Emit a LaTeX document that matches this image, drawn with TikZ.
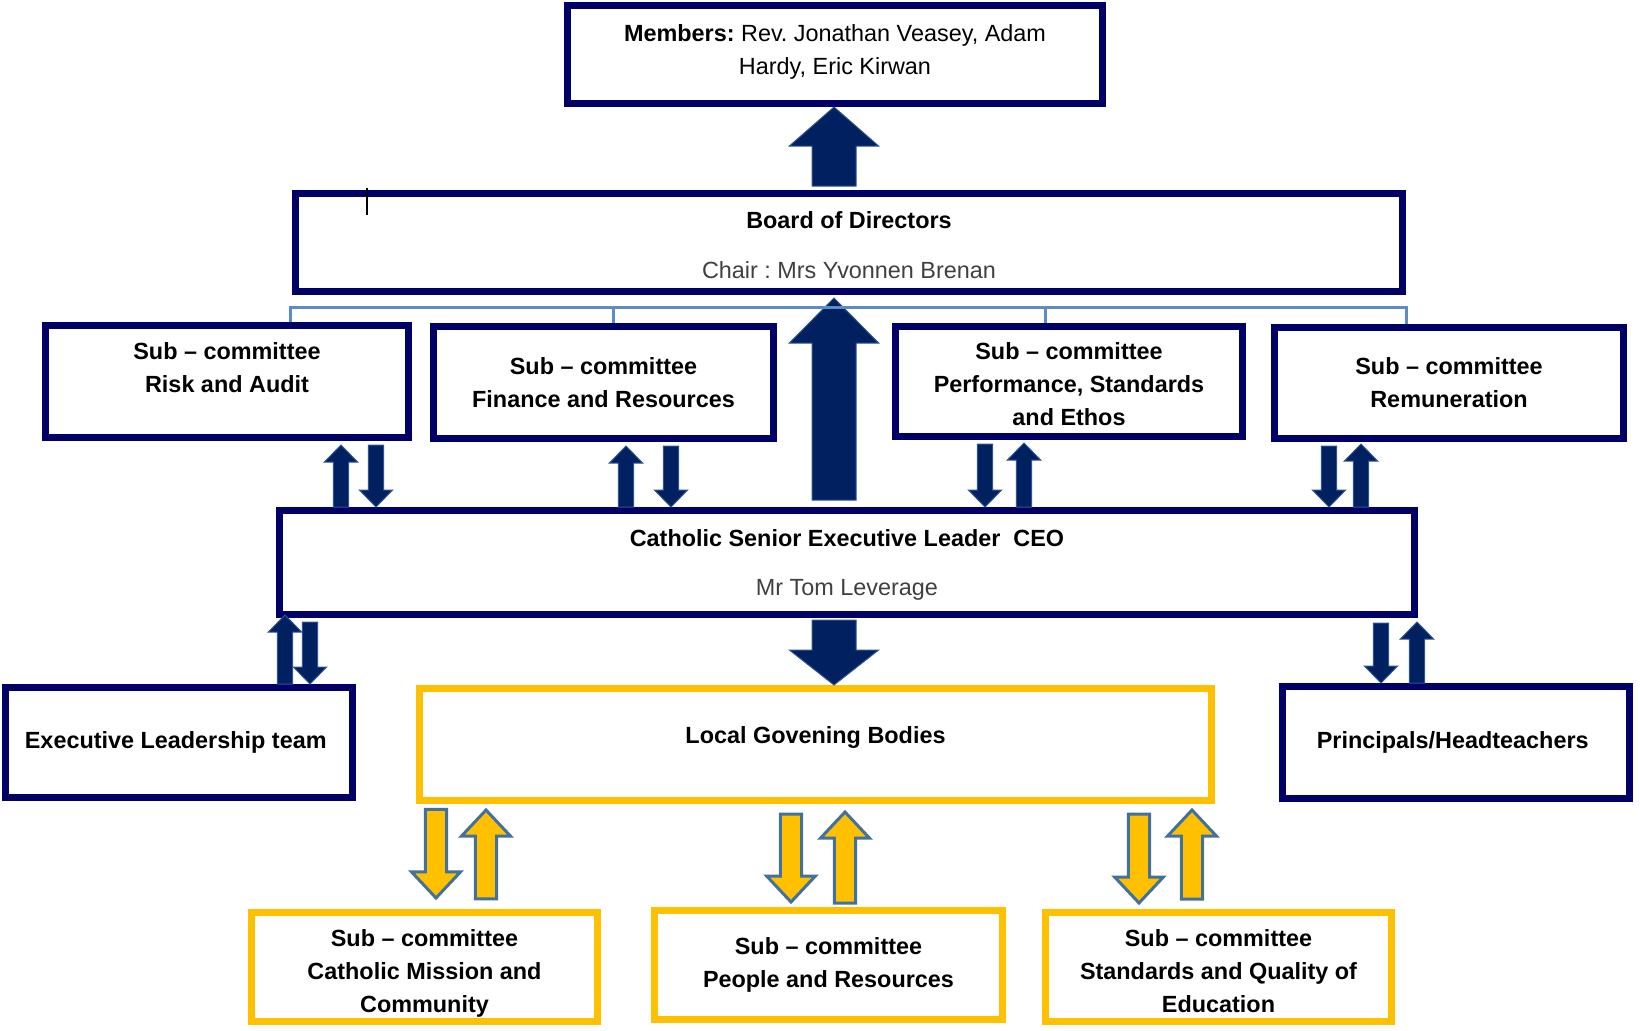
\documentclass[tikz,border=0pt]{standalone}
\usepackage{fontspec}
\setmainfont{Liberation Sans}
\usepackage{tikz}
\usetikzlibrary{calc,positioning,arrows.meta}
\usepackage{xcolor}

\definecolor{boxNavy}{RGB}{0, 0, 102}
\definecolor{arrowNavy}{RGB}{0, 32, 96}
\definecolor{arrowEdge}{RGB}{47, 85, 151}
\definecolor{goldFill}{RGB}{255, 192, 0}
\definecolor{goldEdge}{RGB}{65, 113, 156}
\definecolor{railBlue}{RGB}{91, 140, 200}
\definecolor{chairGrey}{RGB}{64, 64, 64}

\newcommand{\orgfont}{\frenchspacing\fontsize{11.7}{16.5}\selectfont}

\tikzset{
    navybox/.style={draw=boxNavy, line width=3.5pt, fill=white, align=center,
                    inner sep=2pt, font=\orgfont\bfseries},
    goldbox/.style={navybox, draw=goldFill},
    % block arrow: shaft half width, head half width, head length
    blockarrow/.style n args={3}{to path={
        let \p1=(\tikztostart), \p2=(\tikztotarget),
            \n1={ifthenelse(\y2>\y1,1,-1)}
        in (\x1-#1,\y1) -- (\x1-#1,\y2-\n1*#3) -- (\x1-#2,\y2-\n1*#3) -- (\x1,\y2)
           -- (\x1+#2,\y2-\n1*#3) -- (\x1+#1,\y2-\n1*#3) -- (\x1+#1,\y1) -- cycle}},
    navyarrow/.style={fill=arrowNavy, draw=arrowEdge, line width=0.5pt},
    linkarrow/.style={navyarrow, blockarrow={3.8pt}{8.3pt}{8.5pt}},
    goldarrow/.style={fill=goldFill, draw=goldEdge, line width=1.5pt,
                      blockarrow={5.3pt}{12.2pt}{13pt}},
    rail/.style={draw=railBlue, line width=1.5pt}
}

\begin{document}
\begin{tikzpicture}[x=0.5pt,y=-0.5pt]
    \useasboundingbox (0,0) rectangle (1640,1030);

    % members and board
    \node[navybox, font=\orgfont, minimum width=267.5pt, minimum height=49pt] (members) at (835,54.5) {
        \textbf{Members:} Rev. Jonathan Veasey, Adam\\
        Hardy, Eric Kirwan\\[-12pt]\mbox{}
    };
    \node[navybox, minimum width=553.5pt, minimum height=49pt] (board) at (849,242.5) {
        \mbox{}\\[-4.9pt]
        Board of Directors\\[8.5pt]
        {\mdseries\color{chairGrey}Chair : Mrs Yvonnen Brenan}
    };

    % sub-committees of the board
    \node[navybox, minimum width=181.5pt, minimum height=56pt] (risk) at (227,381.5) {
        Sub – committee\\Risk and Audit\\[-3pt]\mbox{}
    };
    \node[navybox, minimum width=170pt, minimum height=56pt] (finance) at (603.5,382.5) {
        Sub – committee\\Finance and Resources
    };
    \node[navybox, minimum width=173.5pt, minimum height=55pt] (perf) at (1069,381.5) {
        \mbox{}\\[-4.9pt]
        Sub – committee\\Performance, Standards\\and Ethos
    };
    \node[navybox, minimum width=174.5pt, minimum height=55.5pt] (remun) at (1449,383) {
        Sub – committee\\Remuneration
    };

    % chief executive
    \node[navybox, minimum width=567.5pt, minimum height=52pt] (ceo) at (847,562.5) {
        \mbox{}\\[-5.9pt]
        Catholic Senior Executive Leader\ \ CEO\\[8pt]
        {\mdseries\color{chairGrey}Mr Tom Leverage}
    };

    % third row
    \node[navybox, minimum width=173.5pt, minimum height=55pt] (exec) at (179,742.5) {
        Executive Leadership team
    };
    \node[goldbox, minimum width=396pt, minimum height=56pt] (lgb) at (815.5,744.5) {
        Local Govening Bodies\\[-7.5pt]\mbox{}
    };
    \node[navybox, minimum width=173.5pt, minimum height=56pt] (heads) at (1456,742.5) {
        Principals/Headteachers
    };

    % local sub-committees
    \node[goldbox, minimum width=173pt, minimum height=54.5pt] (mission) at (424.5,967) {
        \mbox{}\\[-1.4pt]
        Sub – committee\\Catholic Mission and\\Community
    };
    \node[goldbox, minimum width=174pt, minimum height=54.5pt] (people) at (828.5,965) {
        Sub – committee\\People and Resources
    };
    \node[goldbox, minimum width=173pt, minimum height=54.5pt] (quality) at (1218.5,967) {
        \mbox{}\\[-4.4pt]
        Sub – committee\\Standards and Quality of\\Education
    };

    % big arrows
    \draw[navyarrow, blockarrow={11pt}{22.3pt}{19.5pt}] ([yshift=2pt]board.north -| 834,0) to (members.south -| 834,0);
    \draw[navyarrow, blockarrow={11pt}{22.3pt}{22.5pt}] ([yshift=3.5pt]ceo.north -| 834,0) to ([yshift=-1.5pt]board.south -| 834,0);
    \draw[navyarrow, blockarrow={11pt}{22.3pt}{17.5pt}] ([yshift=-1pt]ceo.south -| 834,0) to (lgb.north -| 834,0);

    % board sub-committees <-> ceo
    \draw[linkarrow] (ceo.north -| 341,0) to ([yshift=-2pt]risk.south -| 341,0);
    \draw[linkarrow] ([yshift=-2pt]risk.south -| 376,0) to (ceo.north -| 376,0);
    \draw[linkarrow] (ceo.north -| 626,0) to ([yshift=-2pt]finance.south -| 626,0);
    \draw[linkarrow] ([yshift=-2pt]finance.south -| 671,0) to (ceo.north -| 671,0);
    \draw[linkarrow] ([yshift=-2pt]perf.south -| 985,0) to (ceo.north -| 985,0);
    \draw[linkarrow] (ceo.north -| 1024,0) to ([yshift=-1.5pt]perf.south -| 1024,0);
    \draw[linkarrow] ([yshift=-2pt]remun.south -| 1329,0) to (ceo.north -| 1329,0);
    \draw[linkarrow] (ceo.north -| 1361,0) to ([yshift=-1pt]remun.south -| 1361,0);

    % ceo <-> exec team and heads
    \draw[linkarrow] (exec.north -| 285,0) to ([yshift=1.5pt]ceo.south -| 285,0);
    \draw[linkarrow] ([yshift=-2pt]ceo.south -| 310,0) to (exec.north -| 310,0);
    \draw[linkarrow] ([yshift=-2.5pt]ceo.south -| 1381,0) to (heads.north -| 1381,0);
    \draw[linkarrow] (heads.north -| 1417,0) to ([yshift=-2pt]ceo.south -| 1417,0);

    % lgb <-> local sub-committees
    \draw[goldarrow] ([yshift=-2.7pt]lgb.south -| 436,0) to ([yshift=5.5pt]mission.north -| 436,0);
    \draw[goldarrow] ([yshift=5pt]mission.north -| 486,0) to ([yshift=-3pt]lgb.south -| 486,0);
    \draw[goldarrow] ([yshift=-5pt]lgb.south -| 791,0) to ([yshift=2.5pt]people.north -| 791,0);
    \draw[goldarrow] ([yshift=2pt]people.north -| 845,0) to ([yshift=-4pt]lgb.south -| 845,0);
    \draw[goldarrow] ([yshift=-5pt]lgb.south -| 1139,0) to ([yshift=3pt]quality.north -| 1139,0);
    \draw[goldarrow] ([yshift=5pt]quality.north -| 1192,0) to ([yshift=-3pt]lgb.south -| 1192,0);

    % thin rail under the board
    \coordinate (railline) at ([yshift=-6pt]board.south);
    \draw[rail] (risk.north -| 290,0) -- (railline -| 290,0) -- (railline -| 1406,0) -- (remun.north -| 1406,0);
    \draw[rail] (railline -| 613,0) -- (finance.north -| 613,0);
    \draw[rail] (railline -| 1045,0) -- (perf.north -| 1045,0);

    % stray cursor mark
    \draw[line width=0.6pt] ([xshift=37.5pt,yshift=1pt]board.north west) -- ++(0,27);
\end{tikzpicture}
\end{document}
